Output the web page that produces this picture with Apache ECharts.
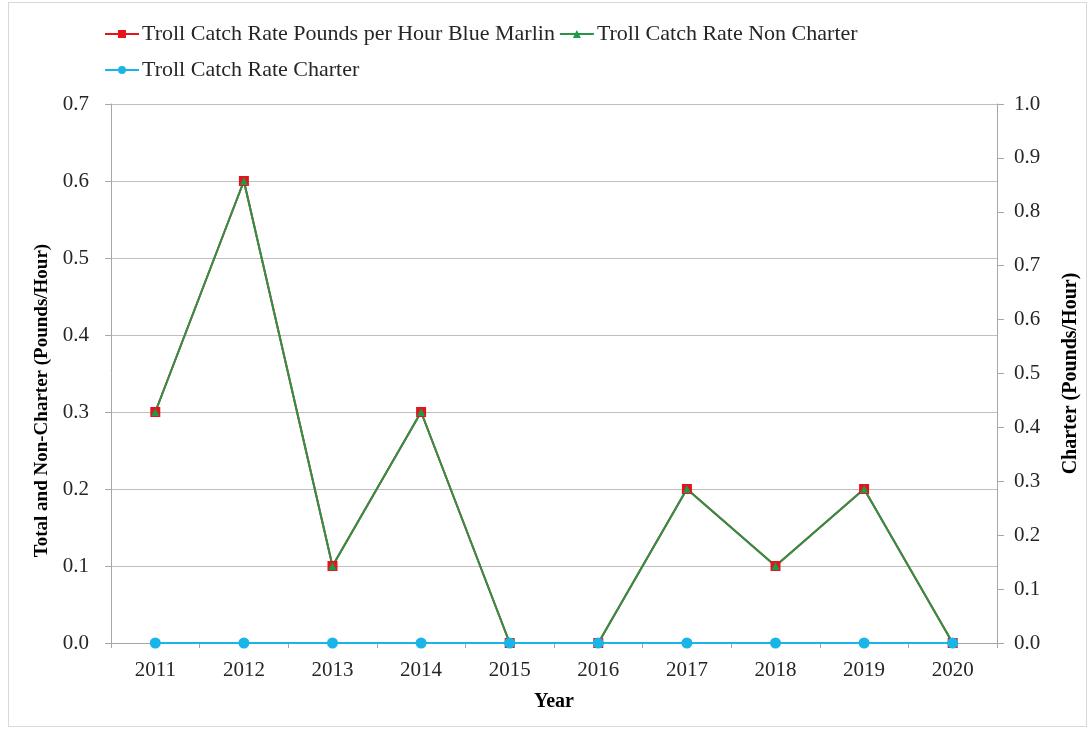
<!DOCTYPE html>
<html>
<head>
<meta charset="utf-8">
<script src="https://cdn.jsdelivr.net/npm/echarts@6/dist/echarts.min.js"></script>
<style>
html,body{margin:0;padding:0;background:#fff;}
#frame{position:absolute;left:8px;top:2px;width:1079px;height:725px;border:1px solid #d9d9d9;box-sizing:border-box;}
#chart{position:absolute;left:0;top:0;width:1090px;height:730px;}
</style>
</head>
<body>
<div id="frame"></div>
<div id="chart"></div>
<script>
var years = ['2011','2012','2013','2014','2015','2016','2017','2018','2019','2020'];
var blueMarlin = [0.3, 0.6, 0.1, 0.3, 0, 0, 0.2, 0.1, 0.2, 0];
var nonCharter = [0.3, 0.6, 0.1, 0.3, 0, 0, 0.2, 0.1, 0.2, 0];
var charter = [0, 0, 0, 0, 0, 0, 0, 0, 0, 0];
var seriesNames = ['Troll Catch Rate Pounds per Hour Blue Marlin', 'Troll Catch Rate Non Charter', 'Troll Catch Rate Charter'];

var font = 'Liberation Serif';
var chart = echarts.init(document.getElementById('chart'), null, {renderer: 'canvas'});
var lbl = {fontFamily: font, fontSize: 21, color: '#262626'};
var legendText = {fontFamily: font, fontSize: 22, color: '#262626', padding: [0,0,0,-2]};
chart.setOption({
  animation: false,
  backgroundColor: 'transparent',
  legend: [
    {data: [seriesNames[0], seriesNames[1]], left: 99, top: 18, itemGap: 4, itemWidth: 34, itemHeight: 10, textStyle: legendText},
    {data: [seriesNames[2]], left: 99, top: 54, itemGap: 4, itemWidth: 34, itemHeight: 10, textStyle: legendText}
  ],
  grid: {left: 111, right: 93, top: 104, bottom: 87, containLabel: false},
  xAxis: {
    type: 'category', data: years, boundaryGap: true,
    name: 'Year', nameLocation: 'middle', nameGap: 49,
    nameTextStyle: {fontFamily: font, fontSize: 20, fontWeight: 'bold', color: '#000'},
    axisLine: {lineStyle: {color: '#a6a6a6'}},
    axisTick: {show: true, alignWithLabel: false, length: 5, lineStyle: {color: '#a6a6a6'}},
    axisLabel: Object.assign({margin: 17}, lbl)
  },
  yAxis: [
    {type: 'value', min: 0, max: 0.7, interval: 0.1,
     name: 'Total and Non-Charter (Pounds/Hour)', nameLocation: 'middle', nameGap: 54,
     nameTextStyle: {fontFamily: font, fontSize: 19, fontWeight: 'bold', color: '#000', padding: [0, 54, 0, 0]},
     axisLine: {show: true, lineStyle: {color: '#a6a6a6'}},
     axisTick: {show: true, length: 6, lineStyle: {color: '#a6a6a6'}},
     splitLine: {show: true, lineStyle: {color: '#bfbfbf', width: 1}},
     axisLabel: Object.assign({margin: 22, formatter: function(v){return v.toFixed(1);}}, lbl)},
    {type: 'value', min: 0, max: 1.0, interval: 0.1, position: 'right',
     name: 'Charter (Pounds/Hour)', nameLocation: 'middle', nameGap: 64, nameRotate: 90,
     nameTextStyle: {fontFamily: font, fontSize: 20, fontWeight: 'bold', color: '#000'},
     axisLine: {show: true, lineStyle: {color: '#a6a6a6'}},
     axisTick: {show: true, length: 7, lineStyle: {color: '#a6a6a6'}},
     splitLine: {show: false},
     axisLabel: Object.assign({margin: 17, formatter: function(v){return v.toFixed(1);}}, lbl)}
  ],
  series: [
    {name: seriesNames[0], type: 'line', data: blueMarlin, yAxisIndex: 0,
     symbol: 'rect', symbolSize: 10, itemStyle: {color: '#e3141c'}, lineStyle: {color: '#e3141c', width: 2}},
    {name: seriesNames[1], type: 'line', data: nonCharter, yAxisIndex: 0,
     symbol: 'triangle', symbolSize: 8, itemStyle: {color: '#1e9a48'}, lineStyle: {color: '#2a9446', width: 2}},
    {name: seriesNames[2], type: 'line', data: charter, yAxisIndex: 1,
     symbol: 'circle', symbolSize: 11, itemStyle: {color: '#19b4e8'}, lineStyle: {color: '#19b4e8', width: 2}}
  ]
});
</script>
</body>
</html>
